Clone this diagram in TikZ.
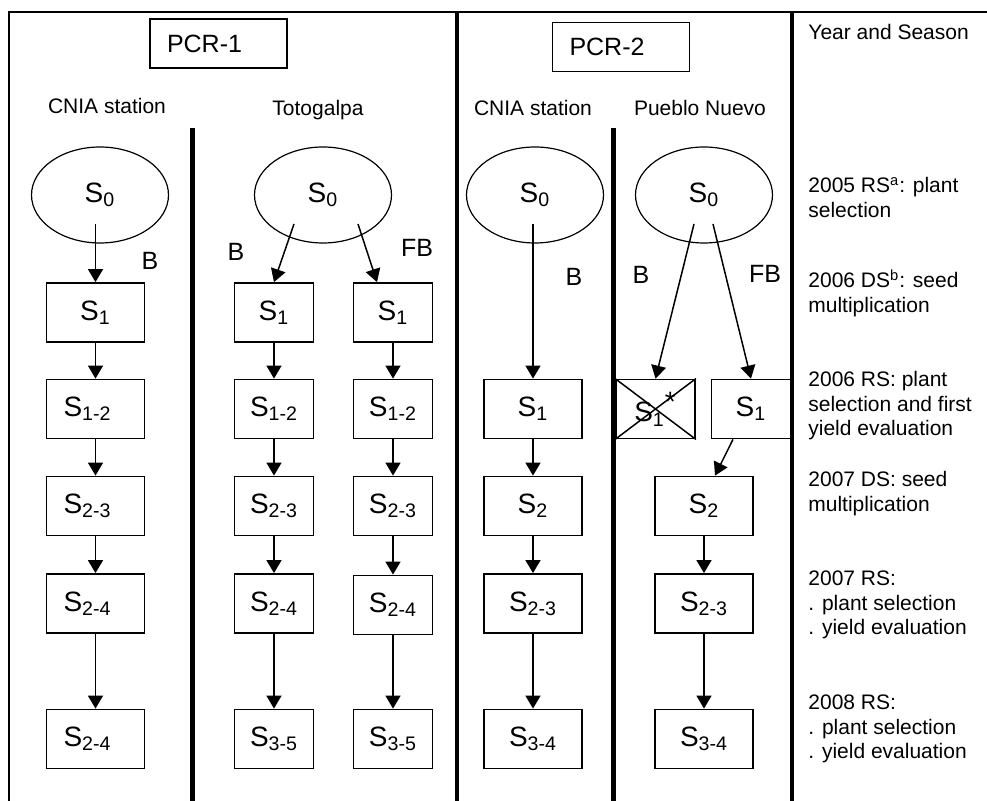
\documentclass[tikz,border=0pt]{standalone}
\usepackage{fontspec}
\setmainfont{Liberation Sans}
\usetikzlibrary{shapes.geometric, arrows.meta}

\begin{document}
\begin{tikzpicture}[x=0.5pt, y=-0.5pt,
	every node/.style={inner sep=0pt, font=\fontsize{10.5}{12.25}\selectfont},
	sbox/.style={draw, line width=0.9pt, minimum width=49pt, minimum height=29.5pt, font=\fontsize{14}{16}\selectfont},
	nbox/.style={sbox, minimum width=39.5pt},
	lbox/.style={sbox, inner xsep=8.5pt, text width=32pt, align=left},
	oval/.style={ellipse, draw, line width=0.6pt, minimum width=68.5pt, minimum height=48pt, font=\fontsize{14}{16}\selectfont},
	title/.style={draw, line width=0.75pt, inner xsep=8.5pt, text width=51.5pt, minimum height=24.5pt, align=left, font=\fontsize{12.5}{15}\selectfont},
	lab/.style={font=\fontsize{12.5}{15}\selectfont},
	site/.style={anchor=base},
	season/.style={anchor=base west, align=left},
	arr/.style={draw, line width=0.75pt, -{Triangle[length=6.5pt, width=7.5pt]}}]
			\useasboundingbox (0,0) rectangle (987,801);
			
			\draw[line width=0.8pt] (9,801) -- (9,12) -- (987,12);
			\draw[line width=2pt] (457,12) -- (457,801);
			\draw[line width=1.6pt] (792,12) -- (792,801);
			\draw[line width=2.5pt] (192,128) -- (192,801);
			\draw[line width=2.5pt] (613,128) -- (613,801);
			
			\node[title] (p1) at (218.5,43.5) {PCR-1};
			\node[title] (p2) at (621,47) {PCR-2};
			
			\node[site] (s1) at (107,114) {CNIA station};
			\node[site] (s2) at (318,116) {Totogalpa};
			\node[site] (s3) at (533,116) {CNIA station};
			\node[site] (s4) at (700,116) {Pueblo Nuevo};
			
			\node[oval] (a0) at (100,195) {S\textsubscript{0}};
			\node[oval] (b0) at (323,195) {S\textsubscript{0}};
			\node[oval] (d0) at (535,195) {S\textsubscript{0}};
			\node[oval] (e0) at (704,195) {S\textsubscript{0}};
			
			\node[sbox] (a1) at (95.5,312.5) {S\textsubscript{1}};
			\node[lbox] (a2) at (95.5,409) {S\textsubscript{1-2}};
			\node[lbox] (a3) at (95.5,506) {S\textsubscript{2-3}};
			\node[lbox] (a4) at (95.5,603.5) {S\textsubscript{2-4}};
			\node[lbox] (a5) at (95.5,739) {S\textsubscript{2-4}};
			
			\node[nbox] (b1) at (274,312.5) {S\textsubscript{1}};
			\node[nbox] (b2) at (274,409) {S\textsubscript{1-2}};
			\node[nbox] (b3) at (274,506) {S\textsubscript{2-3}};
			\node[nbox] (b4) at (274,603.5) {S\textsubscript{2-4}};
			\node[nbox] (b5) at (274,739) {S\textsubscript{3-5}};
			
			\node[nbox] (c1) at (393,312.5) {S\textsubscript{1}};
			\node[nbox] (c2) at (393,409) {S\textsubscript{1-2}};
			\node[nbox] (c3) at (393,506) {S\textsubscript{2-3}};
			\node[nbox] (c4) at (393,605) {S\textsubscript{2-4}};
			\node[nbox] (c5) at (393,739) {S\textsubscript{3-5}};
			
			\node[sbox] (d1) at (533,409) {S\textsubscript{1}};
			\node[sbox] (d2) at (533,506) {S\textsubscript{2}};
			\node[sbox] (d3) at (533,603.5) {S\textsubscript{2-3}};
			\node[sbox] (d4) at (533,739) {S\textsubscript{3-4}};
			
			\node[nbox] (e1) at (655.5,409) {S\textsubscript{1}\textsuperscript{\fontsize{14}{14}\selectfont *}};
			\draw[line width=0.75pt] (e1.north west) -- (e1.south east) (e1.north east) -- (e1.south west);
			\node[nbox] (f1) at (751,409) {S\textsubscript{1}};
			\node[sbox] (f2) at (704,506) {S\textsubscript{2}};
			\node[sbox] (f3) at (704,603.5) {S\textsubscript{2-3}};
			\node[sbox] (f4) at (704,739) {S\textsubscript{3-4}};
			
			\node[lab] (l1) at (150,261) {B};
			\node[lab] (l2) at (236,251.5) {B};
			\node[lab] (l3) at (417,248) {FB};
			\node[lab] (l4) at (574,277) {B};
			\node[lab] (l5) at (641,275) {B};
			\node[lab] (l6) at (765,274) {FB};
			
			\node[season] (y0) at (808,40) {Year and Season};
			\node[season] (y1) at (808,217.5) {2005 RS\textsuperscript{a}: plant\\selection};
			\node[season] (y2) at (808,312.5) {2006 DS\textsuperscript{b}: seed\\multiplication};
			\node[season] (y3) at (808,436) {2006 RS: plant\\selection and first\\yield evaluation};
			\node[season] (y4) at (808,511.5) {2007 DS: seed\\multiplication};
			\node[season] (y5) at (808,635) {2007 RS:\\. plant selection\\. yield evaluation};
			\node[season] (y6) at (808,759) {2008 RS:\\. plant selection\\. yield evaluation};
			
			\coordinate (a0s) at (95.5,224);
			\coordinate (b0b) at (294,224);
			\coordinate (b0f) at (358,224);
			\coordinate (d0s) at (533,224);
			\coordinate (e0b) at (694,224);
			\coordinate (e0f) at (713,224);
			
			\path (a0s) edge[arr] (a1);
			\path (a1) edge[arr] (a2);
			\path (a2) edge[arr] (a3);
			\path (a3) edge[arr] (a4);
			\path (a4) edge[arr] (a5);
			\path (b0b) edge[arr] (b1.north);
			\path (b1) edge[arr] (b2);
			\path (b2) edge[arr] (b3);
			\path (b3) edge[arr] (b4);
			\path (b4) edge[arr] (b5);
			\path (b0f) edge[arr] ([xshift=-8pt]c1.north);
			\path (c1) edge[arr] (c2);
			\path (c2) edge[arr] (c3);
			\path (c3) edge[arr] (c4);
			\path (c4) edge[arr] (c5);
			\path (d0s) edge[arr] (d1);
			\path (d1) edge[arr] (d2);
			\path (d2) edge[arr] (d3);
			\path (d3) edge[arr] (d4);
			\path (e0b) edge[arr] (e1.north);
			\path (e0f) edge[arr] (f1.north);
			\path ([xshift=-9pt]f1.south) edge[arr] ([xshift=5.5pt]f2.north);
			\path (f2) edge[arr] (f3);
			\path (f3) edge[arr] (f4);
\end{tikzpicture}
\end{document}
